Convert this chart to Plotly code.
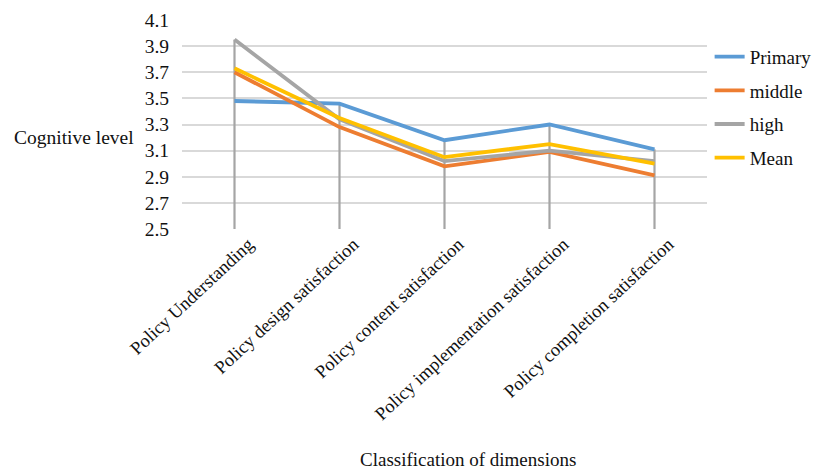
import plotly.graph_objects as go

categories = ["Policy Understanding", "Policy design satisfaction", "Policy content satisfaction",
              "Policy implementation satisfaction", "Policy completion satisfaction"]
primary = [3.48, 3.46, 3.18, 3.30, 3.11]
middle = [3.70, 3.28, 2.98, 3.09, 2.91]
high = [3.95, 3.34, 3.02, 3.10, 3.02]
mean = [3.73, 3.35, 3.05, 3.15, 3.00]
y_ticks = [2.5, 2.7, 2.9, 3.1, 3.3, 3.5, 3.7, 3.9, 4.1]

series = [("Primary", primary, "#5B9BD5"), ("middle", middle, "#ED7D31"),
          ("high", high, "#A5A5A5"), ("Mean", mean, "#FFC000")]

fig = go.Figure()

# drop lines from the highest series value down to the axis minimum
dx, dy = [], []
for i, c in enumerate(categories):
    top = max(s[1][i] for s in series)
    dx += [c, c, None]
    dy += [top, y_ticks[0], None]
fig.add_trace(go.Scatter(x=dx, y=dy, mode="lines", line=dict(color="#A5A5A5", width=2.2),
                         showlegend=False, hoverinfo="skip"))

for name, vals, col in series:
    fig.add_trace(go.Scatter(x=categories, y=vals, mode="lines", name=name, legendgroup=name,
                             line=dict(color=col, width=3.8)))

font = "Liberation Serif, Times New Roman, serif"
fig.update_layout(
    width=821, height=472,
    margin=dict(l=174, r=119, t=12, b=251),
    plot_bgcolor="white", paper_bgcolor="white",
    font=dict(family=font, size=19, color="#111"),
    legend=dict(x=1.005, y=0.915, xanchor="left", yanchor="top", font=dict(size=19),
                tracegroupgap=6, bgcolor="rgba(0,0,0,0)"),
    xaxis=dict(type="category", tickangle=-43, showgrid=False, showline=False, zeroline=False,
               tickfont=dict(size=18.5), range=[-0.5, 4.5], automargin=False,
               ticklabelshift=14),
    yaxis=dict(range=[2.5, 4.1], tickvals=y_ticks, ticktext=[f"{v:.1f}" for v in y_ticks],
               showgrid=True, gridcolor="#D9D9D9", gridwidth=1.5, zeroline=False,
               ticklabelstandoff=12, tickfont=dict(size=19.5), automargin=False),
    annotations=[
        dict(text="Cognitive level", x=-0.205, y=0.44, xref="paper", yref="paper",
             showarrow=False, xanchor="center", yanchor="middle", font=dict(size=19.5)),
        dict(text="Classification of dimensions", x=0.545, y=-1.105, xref="paper", yref="paper",
             showarrow=False, xanchor="center", yanchor="middle", font=dict(size=19)),
    ],
)

fig.write_html("out.html")
